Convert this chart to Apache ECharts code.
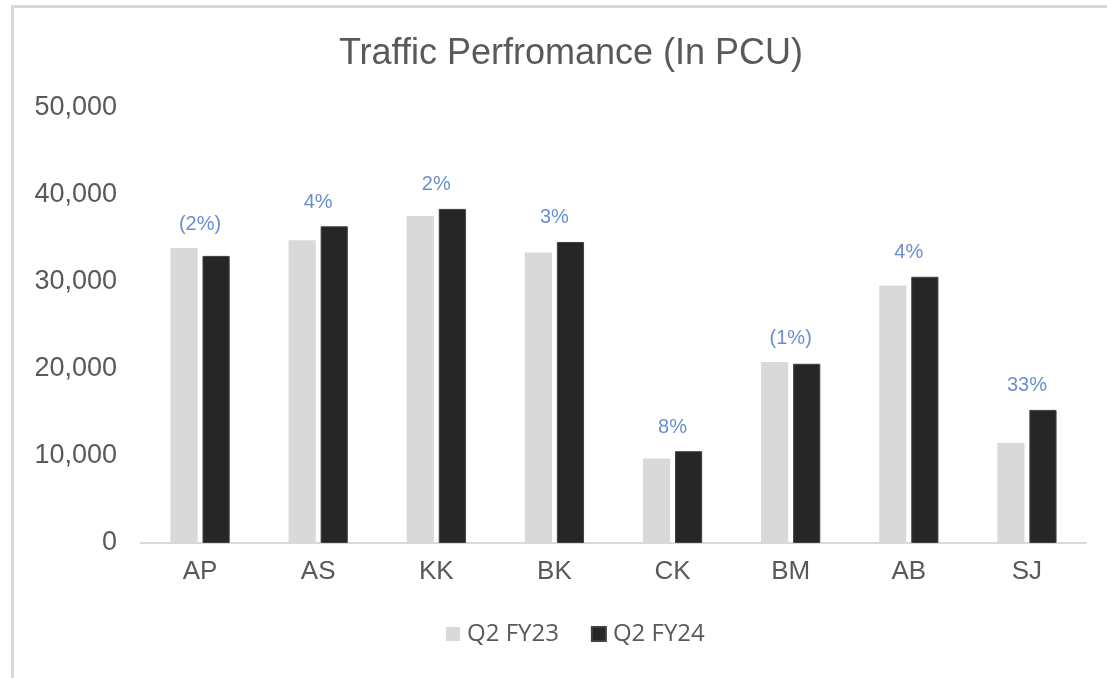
<!DOCTYPE html>
<html>
<head>
<meta charset="utf-8">
<script src="https://cdn.jsdelivr.net/npm/echarts@6/dist/echarts.min.js"></script>
<style>
  html, body { margin: 0; padding: 0; background: #fff; }
  #frame {
    position: absolute; left: 11px; top: 5px; right: -10px; bottom: -10px;
    border-top: 3px solid #d9d9d9; border-left: 3px solid #d9d9d9;
  }
  #chart { position: absolute; left: 0; top: 0; width: 1107px; height: 678px; }
</style>
</head>
<body>
<div id="frame"></div>
<div id="chart"></div>
<script>
// categories and values
const categories = ['AP', 'AS', 'KK', 'BK', 'CK', 'BM', 'AB', 'SJ']
const fy23 = [33900, 34800, 37600, 33400, 9700, 20800, 29600, 11500]
const fy24 = [33000, 36400, 38400, 34600, 10550, 20600, 30600, 15300]
const growthLabels = ['(2%)', '4%', '2%', '3%', '8%', '(1%)', '4%', '33%']

const textColor = '#595959'
const font = '"Liberation Sans", Arial, sans-serif'

const chart = echarts.init(document.getElementById('chart'), null, { renderer: 'canvas' })

const option = {
  animation: false,
  title: {
    text: 'Traffic Perfromance (In PCU)',
    left: 566,
    top: 31,
    textAlign: 'center',
    textStyle: { color: textColor, fontSize: 36, fontWeight: 'normal', fontFamily: font }
  },
  legend: {
    bottom: 27,
    left: 441,
    itemWidth: 14,
    itemHeight: 14,
    itemGap: 32,
    icon: 'rect',
    data: ['Q2 FY23', 'Q2 FY24'],
    textStyle: { color: textColor, fontSize: 24, fontFamily: '"Open Sans", sans-serif', padding: [0, 0, 0, 2] }
  },
  grid: { left: 141, right: 21, top: 108, bottom: 135, containLabel: false },
  xAxis: {
    type: 'category',
    data: categories,
    axisLine: { lineStyle: { color: '#d9d9d9', width: 2 } },
    axisTick: { show: false },
    axisLabel: { color: textColor, fontSize: 26, fontFamily: font, margin: 16 }
  },
  yAxis: {
    type: 'value',
    min: 0,
    max: 50000,
    interval: 10000,
    splitLine: { show: false },
    axisLine: { show: false },
    axisTick: { show: false },
    axisLabel: {
      color: textColor, fontSize: 27, fontFamily: font, margin: 24,
      formatter: v => v.toLocaleString('en-US')
    }
  },
  series: [
    {
      name: 'Q2 FY23',
      type: 'bar',
      data: fy23,
      barWidth: '23%',
      barGap: '18%',
      itemStyle: { color: '#d9d9d9' }
    },
    {
      name: 'Q2 FY24',
      type: 'bar',
      data: fy24,
      barWidth: '23%',
      itemStyle: { color: '#262626', borderColor: '#404040', borderWidth: 1 }
    },
    {
      // growth labels sit above the taller bar of each category
      name: 'growth',
      type: 'scatter',
      symbolSize: 0,
      silent: true,
      data: fy23.map((v, i) => Math.max(v, fy24[i])),
      label: {
        show: true,
        position: 'top',
        distance: 14,
        color: '#4472C4',
        fontSize: 20,
        fontFamily: font,
        formatter: p => growthLabels[p.dataIndex]
      }
    }
  ]
}

chart.setOption(option)
</script>
</body>
</html>
